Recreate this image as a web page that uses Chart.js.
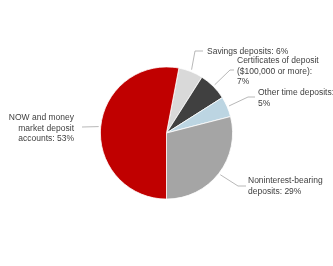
<!DOCTYPE html>
<html>
<head>
<meta charset="utf-8">
<script src="https://cdn.jsdelivr.net/npm/chart.js@4.4.1/dist/chart.umd.min.js"></script>
<style>
  html, body { margin: 0; padding: 0; background: #fff; }
  #wrap { width: 333px; height: 266px; }
</style>
</head>
<body>
<div id="wrap"><canvas id="depositChart"></canvas></div>
<script>
// Deposit mix, clockwise from just right of 12 o'clock
const categories = [
    'Savings deposits',
    'Certificates of deposit ($100,000 or more)',
    'Other time deposits',
    'Noninterest-bearing deposits',
    'NOW and money market deposit accounts'
];
const shares = [6, 7, 5, 29, 53];
const sliceColors = ['#d9d9d9', '#404040', '#bcd5e2', '#a5a5a5', '#c00000'];

// Label text as printed, one entry per slice
const labelLines = [
    ['Savings deposits: 6%'],
    ['Certificates of deposit', '($100,000 or more):', '7%'],
    ['Other time deposits:', '5%'],
    ['Noninterest-bearing', 'deposits: 29%'],
    ['NOW and money', 'market deposit', 'accounts: 53%']
];

// Where each callout sits (elbow, end of leader, text anchor)
const calloutLayout = [
    { elbow: [195, 51], end: [203, 51], x: 207, y: 51.5, align: 'left', lineIdx: 0 },
    { elbow: [230, 70], end: [234, 70], x: 237, y: 61, align: 'left', lineIdx: 1 },
    { elbow: [248, 97], end: [255, 97], x: 258, y: 93, align: 'left', lineIdx: 0 },
    { elbow: [238, 186], end: [246, 186], x: 248, y: 181, align: 'left', lineIdx: 0 },
    { elbow: null, end: [82, 127], x: 74, y: 118, align: 'right', lineIdx: 1 }
];

const calloutPlugin = {
    id: 'callouts',
    afterDatasetsDraw(chart) {
        const ctx = chart.ctx;
        const arcs = chart.getDatasetMeta(0).data;
        ctx.save();
        ctx.font = '8.5px "Liberation Sans", Arial, sans-serif';
        ctx.textBaseline = 'middle';
        arcs.forEach((arc, i) => {
            const { x, y, startAngle, endAngle, outerRadius } = arc.getProps(['x', 'y', 'startAngle', 'endAngle', 'outerRadius'], true);
            const mid = (startAngle + endAngle) / 2;
            const sx = x + Math.cos(mid) * (outerRadius + 2);
            const sy = y + Math.sin(mid) * (outerRadius + 2);
            const lay = calloutLayout[i];

            ctx.strokeStyle = '#a6a6a6';
            ctx.lineWidth = 0.8;
            ctx.beginPath();
            ctx.moveTo(sx, sy);
            if (lay.elbow) ctx.lineTo(lay.elbow[0], lay.elbow[1]);
            ctx.lineTo(lay.end[0], lay.end[1]);
            ctx.stroke();

            ctx.fillStyle = '#404040';
            ctx.textAlign = lay.align;
            labelLines[i].forEach((line, j) => {
                ctx.fillText(line, lay.x, lay.y + j * 10.5);
            });
        });
        ctx.restore();
    }
};

new Chart(document.getElementById('depositChart'), {
    type: 'pie',
    data: {
        labels: categories,
        datasets: [{
            data: shares,
            backgroundColor: sliceColors,
            borderColor: '#ffffff',
            borderWidth: 0.8
        }]
    },
    options: {
        responsive: true,
        maintainAspectRatio: false,
        animation: false,
        rotation: 10.8,
        layout: {
            padding: { left: 100, right: 100, top: 66, bottom: 66 }
        },
        plugins: {
            legend: { display: false },
            tooltip: { enabled: false }
        }
    },
    plugins: [calloutPlugin]
});
</script>
</body>
</html>
